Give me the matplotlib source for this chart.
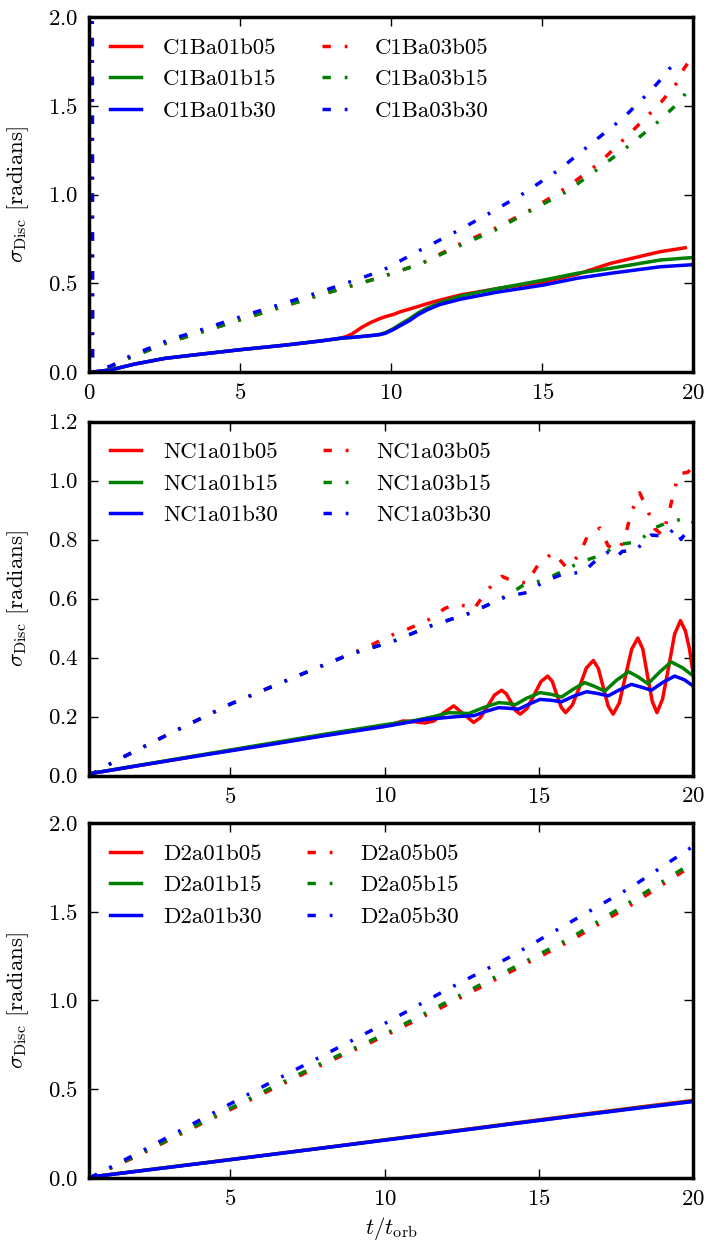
import matplotlib
matplotlib.use('Agg')
import matplotlib.pyplot as plt
from matplotlib.ticker import MultipleLocator

plt.rcParams['font.family'] = 'cmr10'
plt.rcParams['mathtext.fontset'] = 'cm'
plt.rcParams['axes.formatter.use_mathtext'] = True
plt.rcParams['font.size'] = 16.5

COLORS = ['r', 'g', 'b']
LW = 2.5
DASHDOT = (2.4, 4, 0.8, 4)

# ---- C1B runs ----
c1b_labels = ['C1Ba01b05', 'C1Ba01b15', 'C1Ba01b30', 'C1Ba03b05', 'C1Ba03b15', 'C1Ba03b30']

c1b_t_a01 = [0.1, 0.7, 1.5, 2.5, 3.5, 5.0, 6.5, 7.65, 8.3, 8.5, 8.7, 9.0, 9.3, 9.6, 9.8,
             10.07, 10.3, 10.6, 10.9, 11.18, 11.6, 12.28, 13.5, 15.04, 16.14, 17.25, 18.9,
             19.73, 20.0]
c1b_a01b05 = [0.0, 0.012, 0.045, 0.077, 0.097, 0.126, 0.152, 0.175, 0.19, 0.2, 0.215, 0.25,
              0.278, 0.3, 0.312, 0.325, 0.34, 0.355, 0.37, 0.385, 0.405, 0.434, 0.47, 0.507,
              0.55, 0.612, 0.678, 0.70, None]
c1b_a01b15 = [0.0, 0.012, 0.045, 0.077, 0.097, 0.126, 0.152, 0.175, 0.19, 0.193, 0.195, 0.2,
              0.205, 0.212, 0.222, 0.245, 0.27, 0.3, 0.335, 0.36, 0.39, 0.428, 0.47, 0.518,
              0.556, 0.584, 0.631, 0.642, 0.645]
c1b_a01b30 = [0.0, 0.012, 0.045, 0.077, 0.097, 0.126, 0.152, 0.175, 0.19, 0.193, 0.195, 0.2,
              0.205, 0.21, 0.218, 0.24, 0.262, 0.29, 0.325, 0.35, 0.38, 0.41, 0.45, 0.49,
              0.528, 0.556, 0.593, 0.602, 0.605]

c1b_t_a03 = [0.09, 0.1, 0.7, 1.3, 2.57, 3.84, 5.1, 6.43, 7.65, 8.97, 9.7, 11.0, 12.2, 13.44,
             14.65, 15.84, 16.9, 17.9, 18.9, 19.46, 19.62, 19.96]
c1b_a03b05 = [2.6, 0.0, 0.03, 0.078, 0.165, 0.232, 0.3, 0.37, 0.435, 0.5, 0.537, 0.612, 0.716,
              0.81, 0.917, 1.044, 1.18, 1.345, 1.514, 1.63, 1.692, 1.777]
c1b_a03b15 = [2.6, 0.0, 0.03, 0.078, 0.165, 0.232, 0.3, 0.37, 0.435, 0.5, 0.537, 0.612, 0.707,
              0.80, 0.913, 1.02, 1.152, 1.28, 1.42, 1.51, 1.54, 1.627]
c1b_t_a03b30 = [0.09, 0.1, 0.7, 1.3, 2.57, 3.84, 5.1, 6.43, 7.65, 8.97, 9.69, 10.85, 12.03,
                13.2, 14.38, 15.57, 16.59, 17.7, 18.63, 19.07, 19.46]
c1b_a03b30 = [2.6, 0.0, 0.034, 0.086, 0.177, 0.246, 0.317, 0.387, 0.452, 0.528, 0.571, 0.678,
              0.781, 0.89, 1.007, 1.142, 1.283, 1.435, 1.593, 1.677, 1.767]

# ---- NC1 runs ----
nc1_labels = ['NC1a01b05', 'NC1a01b15', 'NC1a01b30', 'NC1a03b05', 'NC1a03b15', 'NC1a03b30']

nc1_t_a01b05 = [0.44, 2.0, 4.0, 6.0, 8.0, 9.0, 10.0, 10.3, 10.6, 10.9, 11.3, 11.6, 11.9, 12.24,
                12.56, 12.88, 13.1, 13.33, 13.56, 13.79, 13.94, 14.09, 14.24, 14.39, 14.61,
                14.84, 15.06, 15.28, 15.43, 15.57, 15.72, 15.86, 16.08, 16.31, 16.53, 16.76,
                16.92, 17.08, 17.24, 17.4, 17.6, 17.8, 18.0, 18.2, 18.36, 18.51, 18.67, 18.82,
                19.0, 19.2, 19.39, 19.58, 19.74, 19.87, 20.0]
nc1_a01b05 = [0.006, 0.033, 0.068, 0.102, 0.136, 0.152, 0.168, 0.176, 0.185, 0.183, 0.178,
              0.185, 0.212, 0.236, 0.208, 0.18, 0.196, 0.234, 0.273, 0.289, 0.277, 0.249,
              0.22, 0.208, 0.227, 0.273, 0.318, 0.337, 0.319, 0.275, 0.231, 0.213, 0.239,
              0.30, 0.364, 0.39, 0.363, 0.299, 0.235, 0.208, 0.246, 0.337, 0.428, 0.466,
              0.429, 0.34, 0.25, 0.213, 0.259, 0.369, 0.479, 0.525, 0.49, 0.43, 0.34]

nc1_t_a01b15 = [0.44, 2.0, 4.0, 6.0, 8.0, 10.0, 11.0, 11.6, 12.07, 12.4, 12.72, 13.2, 13.69,
                13.96, 14.23, 14.6, 15.03, 15.4, 15.73, 16.1, 16.48, 16.8, 17.13, 17.5, 17.9,
                18.2, 18.53, 18.9, 19.28, 19.65, 20.0]
nc1_a01b15 = [0.006, 0.034, 0.069, 0.104, 0.139, 0.172, 0.187, 0.2, 0.213, 0.212, 0.21, 0.23,
              0.247, 0.245, 0.24, 0.262, 0.281, 0.275, 0.266, 0.292, 0.315, 0.302, 0.286,
              0.322, 0.352, 0.335, 0.311, 0.35, 0.385, 0.365, 0.337]

nc1_t_a01b30 = [0.44, 2.0, 4.0, 6.0, 8.0, 10.0, 11.3, 12.4, 12.9, 13.3, 13.69, 14.0, 14.34,
                14.7, 15.03, 15.4, 15.73, 16.1, 16.54, 16.9, 17.24, 17.6, 17.99, 18.3, 18.64,
                19.0, 19.39, 19.7, 20.0]
nc1_a01b30 = [0.006, 0.033, 0.067, 0.1, 0.134, 0.166, 0.19, 0.2, 0.203, 0.218, 0.23, 0.228,
              0.225, 0.243, 0.258, 0.255, 0.25, 0.268, 0.284, 0.278, 0.27, 0.29, 0.309, 0.3,
              0.289, 0.315, 0.337, 0.325, 0.303]

nc1_t_a03b05 = [0.44, 1.2, 3.0, 5.0, 7.0, 8.85, 9.6, 10.13, 10.83, 11.42, 11.96, 12.3, 12.6,
                12.87, 13.14, 13.52, 13.8, 14.06, 14.6, 14.98, 15.46, 15.89, 16.3, 16.57,
                16.97, 17.24, 17.6, 17.83, 17.99, 18.26, 18.5, 18.74, 19.0, 19.2, 19.35,
                19.52, 19.82, 20.0]
nc1_a03b05 = [0.0, 0.045, 0.14, 0.242, 0.33, 0.41, 0.444, 0.472, 0.5, 0.528, 0.567, 0.58,
              0.575, 0.562, 0.601, 0.652, 0.675, 0.663, 0.652, 0.716, 0.756, 0.705, 0.747,
              0.812, 0.839, 0.778, 0.764, 0.828, 0.893, 0.958, 0.904, 0.837, 0.815, 0.887,
              0.955, 1.022, 1.028, 1.05]

nc1_t_a03b15 = [0.44, 1.2, 3.0, 5.0, 7.0, 8.85, 10.28, 11.46, 12.75, 13.4, 14.0, 14.5, 15.19,
                15.78, 16.38, 17.02, 17.56, 18.2, 18.74, 19.28, 19.87, 20.0]
nc1_a03b15 = [0.0, 0.045, 0.14, 0.242, 0.33, 0.41, 0.455, 0.506, 0.55, 0.581, 0.612, 0.646,
              0.663, 0.694, 0.725, 0.747, 0.783, 0.792, 0.839, 0.863, 0.871, 0.88]

nc1_t_a03b30 = [0.44, 1.2, 3.0, 5.0, 7.0, 8.85, 10.28, 11.46, 12.75, 13.4, 13.95, 14.65,
                15.14, 15.78, 16.43, 16.91, 17.35, 17.55, 17.7, 18.1, 18.63, 19.14, 19.4,
                19.6, 20.0]
nc1_a03b30 = [0.0, 0.045, 0.14, 0.242, 0.33, 0.41, 0.455, 0.506, 0.55, 0.581, 0.607, 0.621,
              0.657, 0.683, 0.689, 0.736, 0.765, 0.745, 0.76, 0.761, 0.815, 0.811, 0.84,
              0.80, 0.86]

# ---- D2 runs ----
d2_labels = ['D2a01b05', 'D2a01b15', 'D2a01b30', 'D2a05b05', 'D2a05b15', 'D2a05b30']

d2_t = [0.44, 2.0, 4.0, 6.0, 8.0, 10.0, 12.0, 14.0, 16.0, 18.0, 20.0]
d2_a01b05 = [0.005, 0.039, 0.082, 0.126, 0.17, 0.215, 0.26, 0.305, 0.35, 0.394, 0.437]
d2_a01b15 = [0.005, 0.039, 0.082, 0.125, 0.169, 0.214, 0.258, 0.303, 0.347, 0.391, 0.433]
d2_a01b30 = [0.005, 0.038, 0.081, 0.125, 0.169, 0.213, 0.257, 0.302, 0.346, 0.389, 0.431]
d2_a05b05 = [0.0, 0.125, 0.30, 0.47, 0.64, 0.80, 0.975, 1.155, 1.335, 1.54, 1.765]
d2_a05b15 = [0.0, 0.13, 0.305, 0.48, 0.65, 0.81, 0.99, 1.17, 1.35, 1.56, 1.78]
d2_a05b30 = [0.0, 0.14, 0.325, 0.51, 0.69, 0.87, 1.06, 1.24, 1.44, 1.64, 1.87]


def style_axes(ax):
    for sp in ax.spines.values():
        sp.set_linewidth(2.5)
    ax.tick_params(which='major', direction='in', top=True, right=True,
                   length=6.5, width=1.0, pad=8)


def add_panel(ax, solid, dashed, labels, xlim, ylim, ystep):
    for (t, y), c, lab in zip(solid, COLORS, labels[:3]):
        ax.plot(t, y, color=c, lw=LW, label=lab)
    for (t, y), c, lab in zip(dashed, COLORS, labels[3:]):
        ax.plot(t, y, color=c, lw=LW, dashes=DASHDOT, label=lab)
    ax.set_xlim(*xlim)
    ax.set_ylim(*ylim)
    ax.xaxis.set_major_locator(MultipleLocator(5))
    ax.yaxis.set_major_locator(MultipleLocator(ystep))
    ax.set_ylabel(r'$\sigma_{\rm Disc}$ [radians]', labelpad=12)
    ax.legend(loc='upper left', ncol=2, frameon=False, handlelength=1.35,
              handletextpad=0.95, columnspacing=2.0, fontsize=16.5)
    style_axes(ax)


fig = plt.figure(figsize=(7.08, 12.43), dpi=100)

ax1 = fig.add_axes([0.1264, 0.7007, 0.853, 0.2856])
add_panel(ax1,
          [(c1b_t_a01, c1b_a01b05), (c1b_t_a01, c1b_a01b15), (c1b_t_a01, c1b_a01b30)],
          [(c1b_t_a03, c1b_a03b05), (c1b_t_a03, c1b_a03b15), (c1b_t_a03b30, c1b_a03b30)],
          c1b_labels, (0, 20), (0, 2.0), 0.5)

ax2 = fig.add_axes([0.1264, 0.3761, 0.853, 0.2848])
add_panel(ax2,
          [(nc1_t_a01b05, nc1_a01b05), (nc1_t_a01b15, nc1_a01b15), (nc1_t_a01b30, nc1_a01b30)],
          [(nc1_t_a03b05, nc1_a03b05), (nc1_t_a03b15, nc1_a03b15), (nc1_t_a03b30, nc1_a03b30)],
          nc1_labels, (0.44, 20), (0, 1.2), 0.2)

ax3 = fig.add_axes([0.1264, 0.0523, 0.853, 0.2856])
add_panel(ax3,
          [(d2_t, d2_a01b05), (d2_t, d2_a01b15), (d2_t, d2_a01b30)],
          [(d2_t, d2_a05b05), (d2_t, d2_a05b15), (d2_t, d2_a05b30)],
          d2_labels, (0.44, 20), (0, 2.0), 0.5)
ax3.set_xlabel(r'$t/t_{\rm orb}$')

fig.savefig('out.png', dpi=100)
